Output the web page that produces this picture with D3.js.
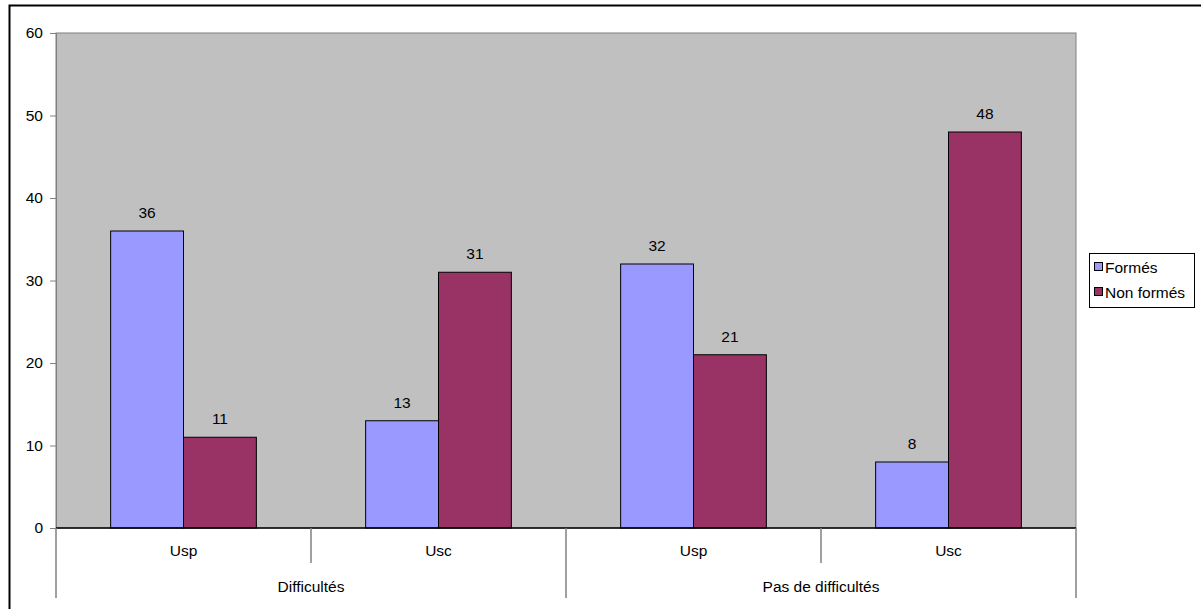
<!DOCTYPE html>
<html><head><meta charset="utf-8">
<script src="https://cdn.jsdelivr.net/npm/d3@7"></script>
<style>body{margin:0;background:#fff}svg{display:block;font-family:"Liberation Sans",Arial,sans-serif}</style>
</head><body><svg id="c" width="1201" height="609"></svg>
<script>
const groups = ["Difficultés", "Pas de difficultés"];
const subCats = ["Usp", "Usc"];
const seriesNames = ["Formés", "Non formés"];
const formes = [36, 13, 32, 8];
const nonFormes = [11, 31, 21, 48];
const yTicks = [0, 10, 20, 30, 40, 50, 60];
const colors = ["#9999FF", "#993366"];

const FS = 15.5;
const svg = d3.select("#c");
const L = 56, R = 1076, T = 33, B = 528;
const cats = [];
groups.forEach(g => subCats.forEach(s => cats.push(g + "|" + s)));
const x = d3.scaleBand().domain(cats).range([L, R]);
const xg = d3.scaleBand().domain(groups).range([L, R]);
const y = d3.scaleLinear().domain([0, 60]).range([B, T]);
const inner = d3.scaleBand().domain(seriesNames).range([0, x.bandwidth()]).paddingOuter(0.75).paddingInner(0);

// outer border
svg.append("path").attr("d", `M9.5,609 V5.5 H1201`).attr("fill","none").attr("stroke","#000").attr("stroke-width",2);

// plot area
svg.append("rect").attr("x", L).attr("y", T).attr("width", R - L).attr("height", B - T)
  .attr("fill", "#C0C0C0").attr("stroke", "#808080").attr("stroke-width", 1);

// y axis
const ya = svg.append("g").attr("transform", `translate(${L},0)`)
  .call(d3.axisLeft(y).tickValues(yTicks).tickSize(6).tickPadding(7).tickFormat(d3.format("d")));
ya.select(".domain").attr("stroke", "#808080");
ya.selectAll(".tick line").attr("stroke", "#808080");
ya.selectAll("text").attr("font-size", FS).attr("fill", "#000").attr("font-family", "Liberation Sans, Arial, sans-serif");

// bars
const data = [];
cats.forEach((c, i) => {
  data.push({c, s: seriesNames[0], v: formes[i], col: colors[0]});
  data.push({c, s: seriesNames[1], v: nonFormes[i], col: colors[1]});
});
svg.selectAll("rect.bar").data(data).enter().append("rect").attr("class","bar")
  .attr("x", d => x(d.c) + inner(d.s)).attr("width", inner.bandwidth())
  .attr("y", d => y(d.v)).attr("height", d => B - y(d.v))
  .attr("fill", d => d.col).attr("stroke", "#000").attr("stroke-width", 1);
svg.selectAll("text.lab").data(data).enter().append("text").attr("class","lab")
  .attr("x", d => x(d.c) + inner(d.s) + inner.bandwidth()/2).attr("y", d => y(d.v) - 13)
  .attr("text-anchor","middle").attr("font-size", FS).text(d => d.v);

// x axis baseline
svg.append("line").attr("x1", L).attr("x2", R).attr("y1", B).attr("y2", B).attr("stroke","#000").attr("stroke-width",1.5);

// category ticks
const innerTicks = cats.map(c => x(c)).concat([R]);
innerTicks.forEach(t => {
  const m = (t - L) % xg.bandwidth();
  const isGroupEdge = Math.abs(m) < 0.5 || Math.abs(m - xg.bandwidth()) < 0.5;
  svg.append("line").attr("x1", t).attr("x2", t).attr("y1", B).attr("y2", isGroupEdge ? 598 : 563)
    .attr("stroke", "#808080").attr("stroke-width", 1.5);
});
svg.selectAll("text.sub").data(cats).enter().append("text").attr("class","sub")
  .attr("x", d => x(d) + x.bandwidth()/2).attr("y", 556).attr("text-anchor","middle")
  .attr("font-size", FS).text(d => d.split("|")[1]);
svg.selectAll("text.grp").data(groups).enter().append("text").attr("class","grp")
  .attr("x", d => xg(d) + xg.bandwidth()/2).attr("y", 592).attr("text-anchor","middle")
  .attr("font-size", FS).text(d => d);

// legend
const lg = svg.append("g");
lg.append("rect").attr("x", 1089.5).attr("y", 253.5).attr("width", 105).attr("height", 54)
  .attr("fill", "#fff").attr("stroke", "#000").attr("stroke-width", 1);
seriesNames.forEach((s, i) => {
  const yy = 267 + i * 25;
  lg.append("rect").attr("x", 1094.5).attr("y", yy - 4.5).attr("width", 8).attr("height", 8)
    .attr("fill", colors[i]).attr("stroke", "#000").attr("stroke-width", 1);
  lg.append("text").attr("x", 1105).attr("y", yy + 5.5).attr("font-size", FS).text(s);
});
</script></body></html>
